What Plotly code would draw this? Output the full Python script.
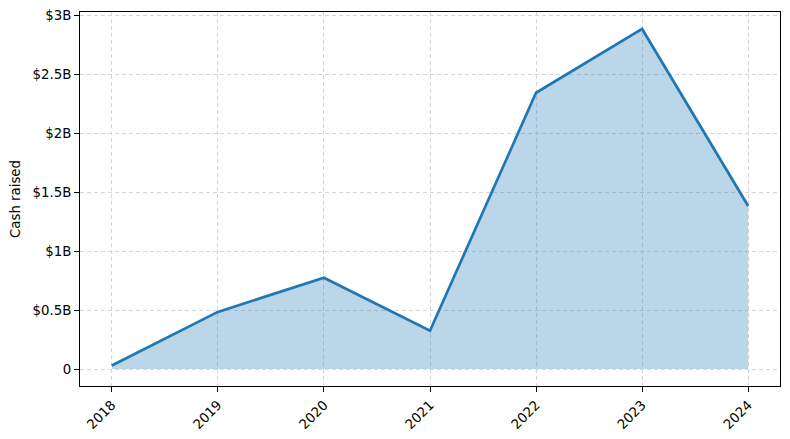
import plotly.graph_objects as go

years = [2018, 2019, 2020, 2021, 2022, 2023, 2024]
cash_raised_b = [0.03, 0.485, 0.775, 0.325, 2.345, 2.887, 1.384]
y_tick_vals = [0, 0.5, 1, 1.5, 2, 2.5, 3]
y_tick_text = ["0", "$0.5B", "$1B", "$1.5B", "$2B", "$2.5B", "$3B"]

blue = "#1f77b4"
font = dict(family="DejaVu Sans", size=13.3, color="black")

fig = go.Figure()
fig.add_trace(go.Scatter(
    x=years, y=cash_raised_b, mode="lines",
    line=dict(color=blue, width=2.7),
    fill="tozeroy", fillcolor="rgba(31,119,180,0.3)",
    hoverinfo="skip", showlegend=False,
))

axis_common = dict(
    showline=True, linecolor="black", linewidth=1, mirror=True,
    ticks="outside", ticklen=5, tickwidth=1, tickcolor="black",
    showgrid=True, gridcolor="#d6d6d6", griddash="4px,3px", gridwidth=1,
    zeroline=False, tickfont=font, automargin=False,
)

fig.update_xaxes(
    range=[2017.7, 2024.3], tickvals=years, ticktext=[str(y) for y in years],
    tickangle=-45, **axis_common,
)
fig.update_yaxes(
    range=[-0.144, 3.031], tickvals=y_tick_vals, ticktext=y_tick_text,
    title=dict(text="Cash raised", font=font, standoff=15), **axis_common,
)

# page body has an 8px default margin, so the figure is sized to compensate
fig.update_layout(
    width=782, height=431,
    margin=dict(l=72, r=10, t=4, b=53),
    plot_bgcolor="white", paper_bgcolor="white",
    font=font,
)

fig.write_html("out.html")
